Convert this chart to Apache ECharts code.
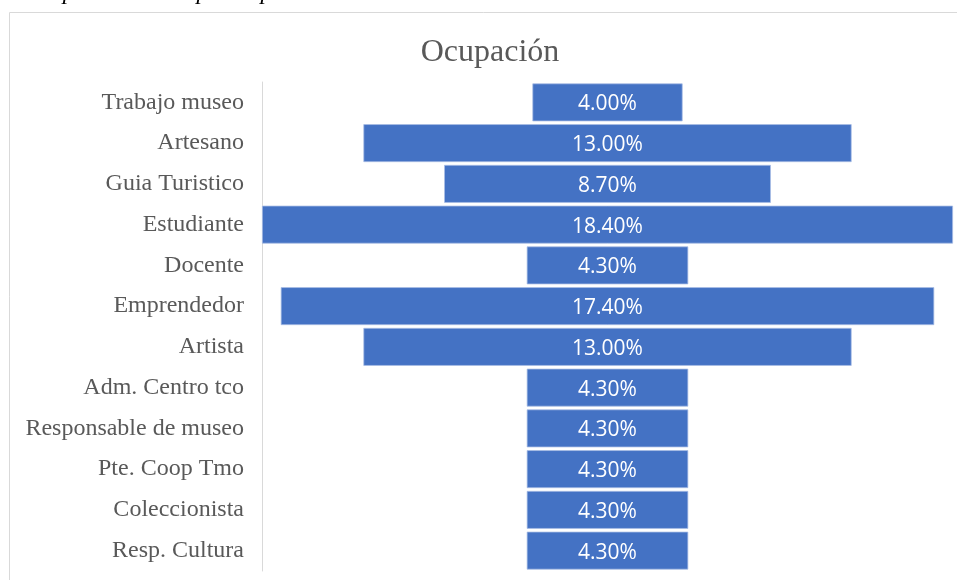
<!DOCTYPE html>
<html><head><meta charset="utf-8">
<script src="https://cdn.jsdelivr.net/npm/echarts@6/dist/echarts.min.js"></script>
<style>html,body{margin:0;padding:0;background:#fff;}#c{width:957px;height:580px;}</style>
</head><body><div id="c"></div>
<script>
const categories = ["Trabajo museo","Artesano","Guia Turistico","Estudiante","Docente","Emprendedor","Artista","Adm. Centro tco","Responsable de museo","Pte. Coop Tmo","Coleccionista","Resp. Cultura"];
const values = [4.00, 13.00, 8.70, 18.40, 4.30, 17.40, 13.00, 4.30, 4.30, 4.30, 4.30, 4.30];
const maxValue = Math.max(...values);
const offsets = values.map(v => (maxValue - v) / 2);

const chart = echarts.init(document.getElementById('c'));
chart.setOption({
  animation: false,
  graphic: [
    {type:'rect', shape:{x:9.5,y:12.5,width:1000,height:600}, style:{fill:'none', stroke:'#d9d9d9', lineWidth:1}, z:-1},
    {type:'text', left:-56, top:-19, style:{text:'Oficio u ocupación de los participantes', font:'italic 24px "Liberation Serif"', fill:'#000'}}
  ],
  title: {text:'Ocupación', left:485, top:32, textAlign:'center',
    textStyle:{fontFamily:'Liberation Serif', fontSize:32, fontWeight:'normal', color:'#595959'}},
  grid: {left:262, right:4, top:82, bottom:9, containLabel:false},
  xAxis: {type:'value', min:0, max:maxValue, show:false},
  yAxis: {type:'category', data:categories, inverse:true,
    axisLine:{show:true, lineStyle:{color:'#d9d9d9', width:1}},
    axisTick:{show:false}, splitLine:{show:false},
    axisLabel:{fontFamily:'Liberation Serif', fontSize:24, color:'#595959', margin:18, padding:[7,0,0,0]}},
  series: [
    {type:'bar', stack:'s', data:offsets, itemStyle:{color:'transparent'}, barCategoryGap:'7%', silent:true},
    {type:'bar', stack:'s', data:values, barCategoryGap:'7%',
      itemStyle:{color:'#4472C4', borderColor:'#a9bde6', borderWidth:0.75},
      label:{show:true, position:'inside', offset:[0,2], color:'#ffffff', fontFamily:'Open Sans', fontSize:21,
        formatter: p => p.value.toFixed(2) + '%'}}
  ]
});
</script></body></html>
